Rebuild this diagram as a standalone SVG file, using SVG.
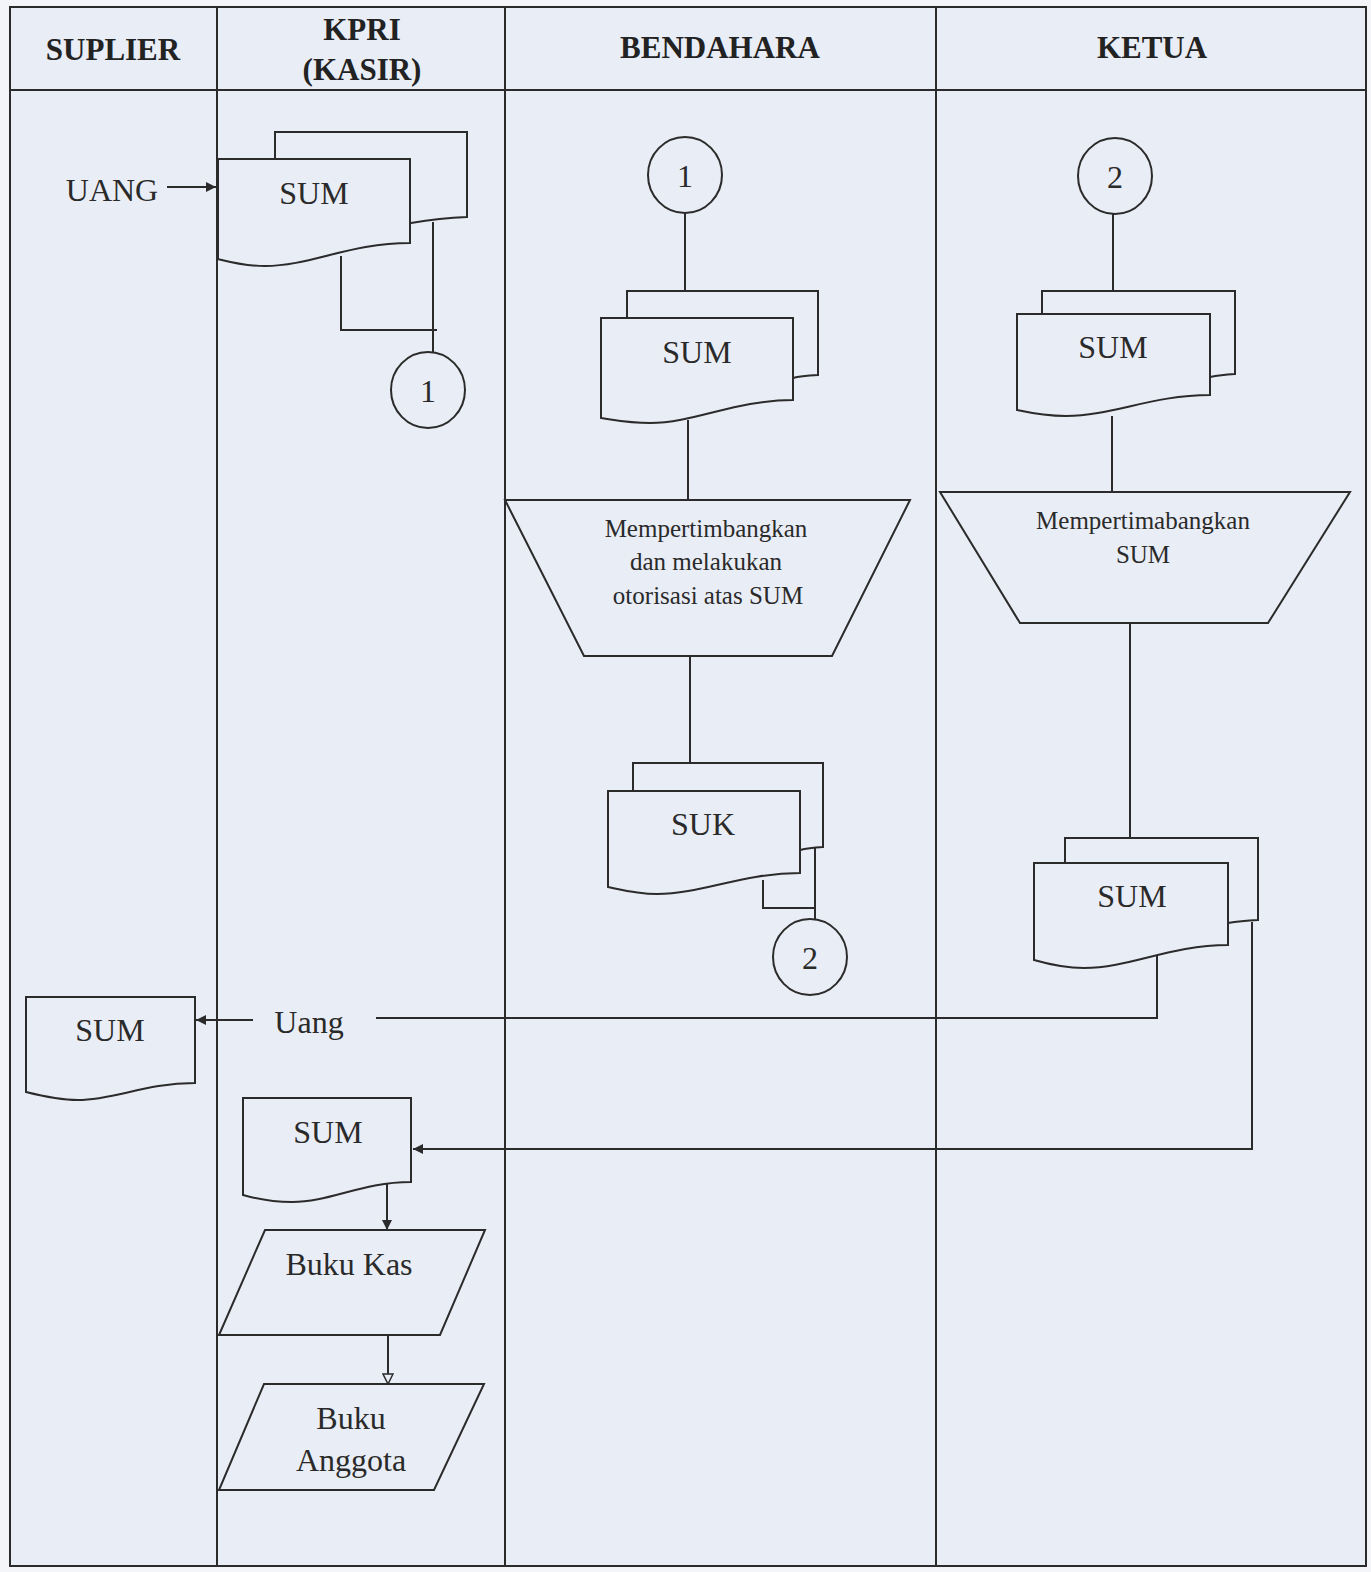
<svg xmlns="http://www.w3.org/2000/svg" width="1371" height="1572" viewBox="0 0 1371 1572">
<defs>
<style>
.ln{fill:none;stroke:#2b2b2b;stroke-width:2}
.sh{fill:#e9edf6;stroke:#2b2b2b;stroke-width:2;stroke-linejoin:miter}
.hd{font-family:"Liberation Serif",serif;font-weight:bold;font-size:31px;fill:#222;text-anchor:middle}
.tx{font-family:"Liberation Serif",serif;font-size:32px;fill:#2a2a2a;text-anchor:middle}
.sm{font-family:"Liberation Serif",serif;font-size:25px;fill:#2a2a2a;text-anchor:middle}
</style>
<marker id="af" viewBox="0 0 10 10" refX="10" refY="5" markerWidth="10" markerHeight="10" markerUnits="userSpaceOnUse" orient="auto">
<path d="M0,0 L10,5 L0,10 Z" fill="#2b2b2b"/>
</marker>
<marker id="ah" viewBox="0 0 12 12" refX="11" refY="6" markerWidth="12" markerHeight="12" markerUnits="userSpaceOnUse" orient="auto">
<path d="M1,1 L11,6 L1,11 Z" fill="#e9edf6" stroke="#2b2b2b" stroke-width="1.5"/>
</marker>
</defs>
<rect x="0" y="0" width="1371" height="1572" fill="#f4f5f8"/>
<rect x="10" y="7" width="1356" height="1559" fill="#e9edf6" stroke="#2b2b2b" stroke-width="2"/>
<g id="lanes">
<line class="ln" x1="10" y1="90" x2="1366" y2="90"/>
<line class="ln" x1="217" y1="7" x2="217" y2="1566"/>
<line class="ln" x1="505" y1="7" x2="505" y2="1566"/>
<line class="ln" x1="936" y1="7" x2="936" y2="1566"/>
<text class="hd" x="113" y="60">SUPLIER</text>
<text class="hd" x="362" y="40">KPRI</text>
<text class="hd" x="362" y="80">(KASIR)</text>
<text class="hd" x="720" y="58">BENDAHARA</text>
<text class="hd" x="1152" y="58">KETUA</text>
</g>
<g id="connectors">
<line class="ln" x1="167" y1="187" x2="216" y2="187" marker-end="url(#af)"/>
<polyline class="ln" points="341,256 341,330 437,330"/>
<line class="ln" x1="433" y1="222" x2="433" y2="352"/>
<line class="ln" x1="685" y1="213" x2="685" y2="292"/>
<line class="ln" x1="688" y1="420" x2="688" y2="500"/>
<line class="ln" x1="690" y1="656" x2="690" y2="762"/>
<polyline class="ln" points="763,880 763,908 815,908"/>
<line class="ln" x1="815" y1="848" x2="815" y2="920"/>
<line class="ln" x1="1113" y1="214" x2="1113" y2="291"/>
<line class="ln" x1="1112" y1="416" x2="1112" y2="492"/>
<line class="ln" x1="1130" y1="624" x2="1130" y2="838"/>
<polyline class="ln" points="1157,952 1157,1018 376,1018"/>
<line class="ln" x1="253" y1="1020" x2="196" y2="1020" marker-end="url(#af)"/>
<polyline class="ln" points="1252,922 1252,1149 413,1149" marker-end="url(#af)"/>
<line class="ln" x1="387" y1="1182" x2="387" y2="1230" marker-end="url(#af)"/>
<line class="ln" x1="388" y1="1335" x2="388" y2="1384" marker-end="url(#ah)"/>
<text class="tx" x="309" y="1033">Uang</text>
</g>
<g id="uang-in"><text class="tx" x="112" y="201">UANG</text></g>
<g id="kpri-sum-stack">
<path class="sh" d="M275,132 H467 V217 Q440,218 411,223 H275 Z"/>
<path class="sh" d="M218,159 H410 V243 C350,243 310,266 265,266 C245,266 230,262 218,259 Z"/>
<text class="tx" x="314" y="204">SUM</text>
</g>
<g id="kpri-conn1"><ellipse class="sh" cx="428" cy="390" rx="37" ry="38"/><text class="tx" x="428" y="402">1</text></g>
<g id="bend-conn1"><ellipse class="sh" cx="685" cy="175" rx="37" ry="38"/><text class="tx" x="685" y="187">1</text></g>
<g id="bend-sum-stack">
<path class="sh" d="M627,291 H818 V375 Q800,376 793,378 H627 Z"/>
<path class="sh" d="M601,318 H793 V400 C735,400 695,423 650,423 C630,423 615,420 601,418 Z"/>
<text class="tx" x="697" y="363">SUM</text>
</g>
<g id="bend-process">
<path class="sh" d="M505,500 H910 L832,656 H584 Z"/>
<text class="sm" x="706" y="537">Mempertimbangkan</text>
<text class="sm" x="706" y="570">dan melakukan</text>
<text class="sm" x="708" y="604">otorisasi atas SUM</text>
</g>
<g id="bend-suk-stack">
<path class="sh" d="M633,763 H823 V847 Q808,848 800,850 H633 Z"/>
<path class="sh" d="M608,791 H800 V873 C742,873 702,894 657,894 C637,894 622,890 608,887 Z"/>
<text class="tx" x="703" y="835">SUK</text>
</g>
<g id="bend-conn2"><ellipse class="sh" cx="810" cy="957" rx="37" ry="38"/><text class="tx" x="810" y="969">2</text></g>
<g id="ketua-conn2"><ellipse class="sh" cx="1115" cy="176" rx="37" ry="38"/><text class="tx" x="1115" y="188">2</text></g>
<g id="ketua-sum-stack">
<path class="sh" d="M1042,291 H1235 V374 Q1220,375 1210,377 H1042 Z"/>
<path class="sh" d="M1017,314 H1210 V395 C1152,395 1112,416 1066,416 C1046,416 1031,413 1017,410 Z"/>
<text class="tx" x="1113" y="358">SUM</text>
</g>
<g id="ketua-process">
<path class="sh" d="M940,492 H1350 L1268,623 H1020 Z"/>
<text class="sm" x="1143" y="529">Mempertimabangkan</text>
<text class="sm" x="1143" y="563">SUM</text>
</g>
<g id="ketua-sum-stack2">
<path class="sh" d="M1065,838 H1258 V920 Q1240,921 1228,923 H1065 Z"/>
<path class="sh" d="M1034,863 H1228 V945 C1170,945 1130,968 1084,968 C1064,968 1048,964 1034,960 Z"/>
<text class="tx" x="1132" y="907">SUM</text>
</g>
<g id="suplier-sum">
<path class="sh" d="M26,997 H195 V1083 C145,1083 115,1100 78,1100 C60,1100 42,1096 26,1092 Z"/>
<text class="tx" x="110" y="1041">SUM</text>
</g>
<g id="kpri-sum2">
<path class="sh" d="M243,1098 H411 V1182 C362,1182 330,1202 292,1202 C273,1202 257,1199 243,1195 Z"/>
<text class="tx" x="328" y="1143">SUM</text>
</g>
<g id="buku-kas">
<path class="sh" d="M265,1230 H485 L440,1335 H219 Z"/>
<text class="tx" x="349" y="1275">Buku Kas</text>
</g>
<g id="buku-anggota">
<path class="sh" d="M264,1384 H484 L434,1490 H219 Z"/>
<text class="tx" x="351" y="1429">Buku</text>
<text class="tx" x="351" y="1471">Anggota</text>
</g>
</svg>
